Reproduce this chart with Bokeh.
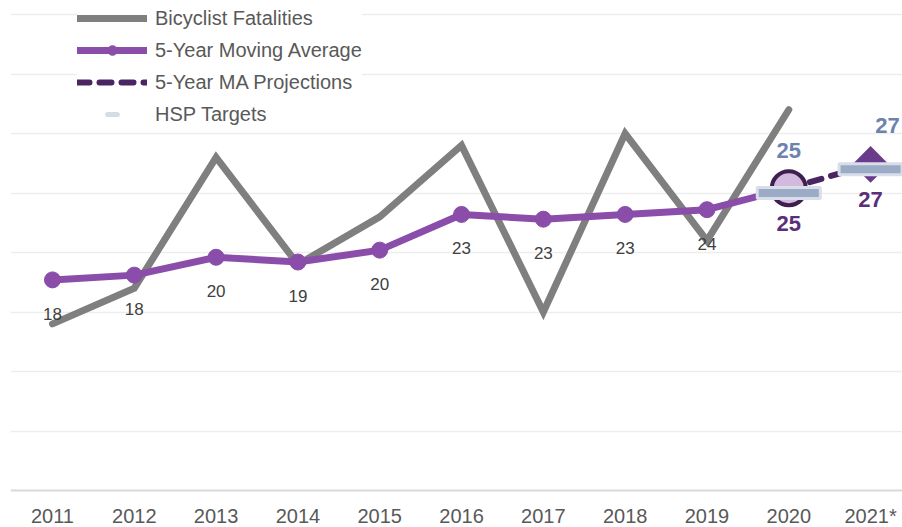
from bokeh.plotting import figure
from bokeh.models import Range1d, FixedTicker, Legend, LegendItem
from bokeh.core.properties import value
from bokeh.embed import file_html
from bokeh.resources import INLINE

# ---- data ----
x_labels = ["2011", "2012", "2013", "2014", "2015", "2016", "2017", "2018", "2019", "2020", "2021*"]
fatalities = [14, 17, 28, 19, 23, 29, 15, 30, 21, 32]
moving_avg = [17.7, 18.1, 19.6, 19.2, 20.2, 23.2, 22.8, 23.2, 23.6, 25.4]
ma_labels = ["18", "18", "20", "19", "20", "23", "23", "23", "24"]
proj_idx = [9, 10]
projection = [25.4, 27.4]
proj_labels = ["25", "27"]
hsp_targets = [25, 27]
hsp_labels = ["25", "27"]
grid_ticks = [5, 10, 15, 20, 25, 30, 35, 40]

idx = list(range(len(x_labels)))
obs_idx = idx[:len(fatalities)]
FONT = value("Liberation Sans")

p = figure(width=902, height=527, output_backend="svg", toolbar_location=None,
           x_range=Range1d(-0.513, 10.39), y_range=Range1d(-3.11, 41.18),
           y_axis_location=None,
           min_border_left=10, min_border_right=0, min_border_top=0, min_border_bottom=0)
p.outline_line_color = None
p.background_fill_color = "white"
p.xgrid.visible = False
p.ygrid.ticker = FixedTicker(ticks=grid_ticks)
p.ygrid.grid_line_color = "#EDEDED"
p.ygrid.grid_line_width = 1.5

ax = p.xaxis[0]
ax.fixed_location = 0
ax.ticker = FixedTicker(ticks=idx)
ax.major_label_overrides = {i: lab for i, lab in enumerate(x_labels)}
ax.axis_line_color = "#D9D9D9"
ax.axis_line_width = 2
ax.major_tick_line_color = None
ax.minor_tick_line_color = None
ax.major_tick_out = 0
ax.major_tick_in = 0
ax.major_label_text_font = "Liberation Sans"
ax.major_label_text_font_size = "20px"
ax.major_label_text_color = "#595959"
ax.major_label_standoff = 15

# fatalities line
r_fat = p.line(obs_idx, fatalities, line_color="#7F7F7F", line_width=7,
               line_join="miter", line_cap="round")

# moving average
r_ma = p.line(obs_idx, moving_avg, line_color="#8A4DAA", line_width=7, line_cap="round")
r_ma_pts = p.scatter(obs_idx[:-1], moving_avg[:-1], marker="circle", size=16,
                     fill_color="#8A4DAA", line_color="#8A4DAA")

# projection dashed
r_proj = p.line(proj_idx, projection, line_color="#4B2462", line_width=6,
                line_dash="12 10", line_cap="round")

# 2020 big circle and 2021 diamond
p.scatter(proj_idx[:1], projection[:1], marker="circle", size=34,
          fill_color="#D4B9DE", line_color="#3F1F50", line_width=4)
p.scatter(proj_idx[1:], projection[1:], marker="square", size=26, angle=0.785398,
          fill_color="#6B3B8B", line_color=None)

# HSP targets (legend marker hidden beneath the bars)
r_hsp = p.scatter(proj_idx, hsp_targets, marker="dash", size=16, line_color="#D6DCE5",
                  line_width=5, line_cap="round")
p.rect(proj_idx, hsp_targets, width=0.77, height=11, height_units="screen",
       fill_color="#9BAAC5", line_color="#D8DEE9", line_width=3)

# labels
p.text(obs_idx[:-1], moving_avg[:-1], text=ma_labels, y_offset=34,
       text_align="center", text_baseline="middle", text_font=FONT,
       text_font_size="17px", text_color="#404040")
p.text(proj_idx, projection, text=proj_labels, y_offset=35,
       text_align="center", text_baseline="middle", text_font=FONT,
       text_font_size="22px", text_font_style="bold", text_color="#5A2E78")
p.text(proj_idx[:1], hsp_targets[:1], text=hsp_labels[:1], y_offset=-43,
       text_align="center", text_baseline="middle", text_font=FONT,
       text_font_size="22px", text_font_style="bold", text_color="#6C83AE")
p.text(proj_idx[1:], hsp_targets[1:], text=hsp_labels[1:], y_offset=-44, x_offset=17,
       text_align="center", text_baseline="middle", text_font=FONT,
       text_font_size="22px", text_font_style="bold", text_color="#6C83AE")

legend = Legend(items=[
    LegendItem(label="Bicyclist Fatalities", renderers=[r_fat]),
    LegendItem(label="5-Year Moving Average", renderers=[r_ma, r_ma_pts]),
    LegendItem(label="5-Year MA Projections", renderers=[r_proj]),
    LegendItem(label="HSP Targets", renderers=[r_hsp]),
], location=(67, 401))
legend.glyph_width = 70
legend.glyph_height = 24
legend.label_height = 24
legend.spacing = 8
legend.padding = 4
legend.margin = 0
legend.label_standoff = 8
legend.label_text_font = "Liberation Sans"
legend.label_text_font_size = "20px"
legend.label_text_color = "#595959"
legend.border_line_color = None
legend.background_fill_color = "white"
legend.background_fill_alpha = 1.0
p.add_layout(legend)

open("out.html", "w").write(file_html(p, INLINE))
